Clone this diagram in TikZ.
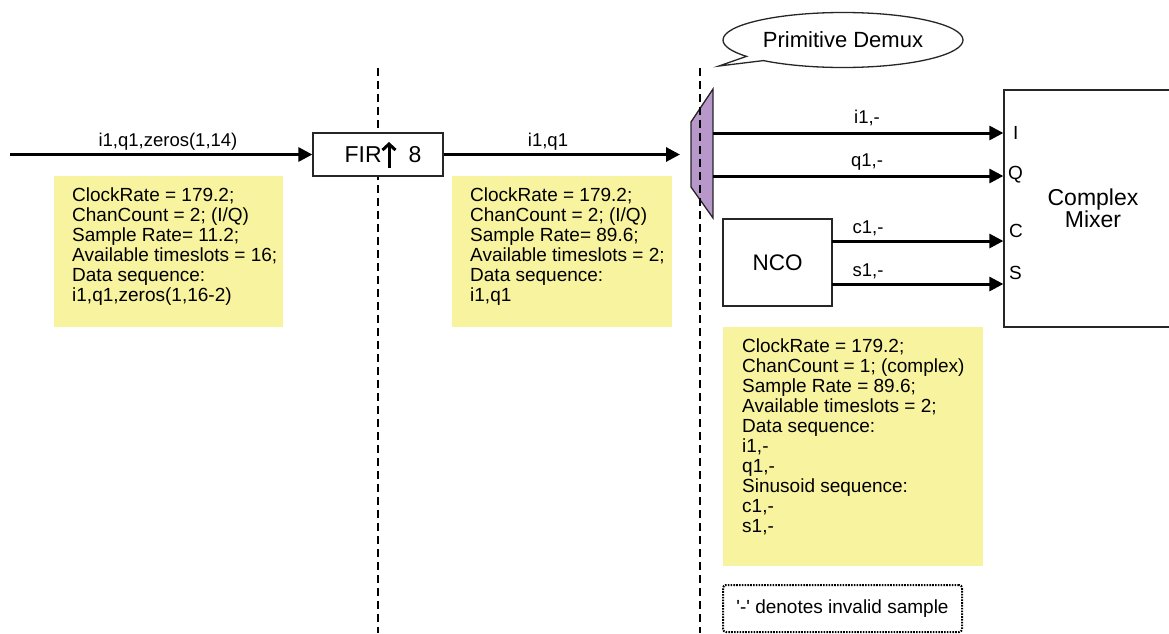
\documentclass[tikz,border=0pt]{standalone}
\usepackage{fontspec}
\setmainfont{Liberation Sans}
\usetikzlibrary{arrows.meta,shapes.callouts}
\definecolor{notey}{RGB}{248,243,158}
\definecolor{dmxpurple}{RGB}{184,152,202}
\begin{document}
\begin{tikzpicture}[x=1pt,y=-1pt,
  arr/.style={line width=3pt,-{Triangle[length=14pt,width=14pt]}},
  blk/.style={draw=black!85,line width=1.3pt,fill=white},
  note/.style={fill=notey,draw=none,anchor=north west,inner sep=0},
  notetxt/.style={anchor=north west,align=left,inner sep=0,font=\fontsize{19}{20}\selectfont},
  lbl/.style={font=\fontsize{18.5}{20}\selectfont,inner sep=0},
  port/.style={font=\fontsize{19}{20}\selectfont,inner sep=0,anchor=west},
  vdash/.style={line width=2pt,dash pattern=on 8pt off 5pt},
]
\useasboundingbox (0,0) rectangle (1169,633);

% yellow notes
\node[note,minimum width=229pt,minimum height=151pt] (n1) at (54,176) {};
\node[notetxt] (t1) at ([xshift=18pt,yshift=-12pt]n1.north west)
  {ClockRate = 179.2;\\ChanCount = 2; (I/Q)\\Sample Rate= 11.2;\\Available timeslots = 16;\\Data sequence:\\i1,q1,zeros(1,16-2)};
\node[note,minimum width=220pt,minimum height=151pt] (n2) at (452,176) {};
\node[notetxt] (t2) at ([xshift=18pt,yshift=-12pt]n2.north west)
  {ClockRate = 179.2;\\ChanCount = 2; (I/Q)\\Sample Rate= 89.6;\\Available timeslots = 2;\\Data sequence:\\i1,q1};
\node[note,minimum width=260pt,minimum height=239pt] (n3) at (723,327) {};
\node[notetxt] (t3) at ([xshift=19pt,yshift=-12pt]n3.north west)
  {ClockRate = 179.2;\\ChanCount = 1; (complex)\\Sample Rate = 89.6;\\Available timeslots = 2;\\Data sequence:\\i1,-\\q1,-\\Sinusoid sequence:\\c1,-\\s1,-};

% left separator and FIR
\draw[vdash] (378,68) -- (378,633);
\node[blk,minimum width=130pt,minimum height=43pt,inner sep=0,font=\fontsize{23}{25}\selectfont] (fir) at (378,154.5) {\hspace{10pt}FIR\hspace{27pt}8};
\coordinate (upB) at (389,167.5);
\coordinate (upT) at (389,142);
\draw[line width=3pt,-{Straight Barb[length=6pt,width=13pt]}] (upB) -- (upT);

% demux and right separator
\draw[fill=dmxpurple,draw=black!85,line width=1.3pt] (713,89) -- (691,122) -- (691,187) -- (713,218) -- cycle;
\draw[vdash] (700,68) -- (700,633);

% callout
\node[ellipse callout,draw=black!85,line width=1.3pt,fill=white,minimum width=240pt,minimum height=55pt,
  callout absolute pointer={(719,66)},callout pointer arc=12,font=\fontsize{22}{24}\selectfont] (callout) at (843,40) {Primitive Demux};

% mixer and NCO
\node[blk,minimum width=178pt,minimum height=237pt,inner sep=0,align=center,font=\fontsize{23}{22}\selectfont] (mixer) at (1093,208.5) {Complex\\Mixer};
\node[blk,minimum width=109pt,minimum height=87pt,font=\fontsize{22.5}{24}\selectfont] (nco) at (777.5,262.5) {NCO};

% coordinates
\coordinate (src) at (10,154.5);
\coordinate (dmxin) at (680,154.5);
\coordinate (dI) at (713,133);
\coordinate (dQ) at (713,176);
\coordinate (nC) at (832,241);
\coordinate (nS) at (832,284);

% connectors
\draw[arr] (src) -- (fir.west);
\draw[arr] (fir.east) -- (dmxin);
\draw[arr] (dI) -- (dI -| mixer.west);
\draw[arr] (dQ) -- (dQ -| mixer.west);
\draw[arr] (nC) -- (nC -| mixer.west);
\draw[arr] (nS) -- (nS -| mixer.west);

% labels
\node[lbl] (l0) at (168,142) {i1,q1,zeros(1,14)};
\node[lbl] (l1) at (548,142) {i1,q1};
\node[lbl] (l2) at (867,118) {i1,-};
\node[lbl] (l3) at (867,162) {q1,-};
\node[lbl] (l4) at (868,228) {c1,-};
\node[lbl] (l5) at (868,271) {s1,-};
\node[port] (pI) at (1013,133) {I};
\node[port] (pQ) at (1008,175) {Q};
\node[port] (pC) at (1009,231) {C};
\node[port] (pS) at (1009,273) {S};

% legend
\node[draw=black,rounded corners=3pt,line width=2pt,dash pattern=on 1.6pt off 1.2pt,
  minimum width=239pt,minimum height=47pt,font=\fontsize{19}{20}\selectfont] (legend) at (842.5,608.5)
  {\textquotesingle-\textquotesingle{} denotes invalid sample};
\end{tikzpicture}
\end{document}
